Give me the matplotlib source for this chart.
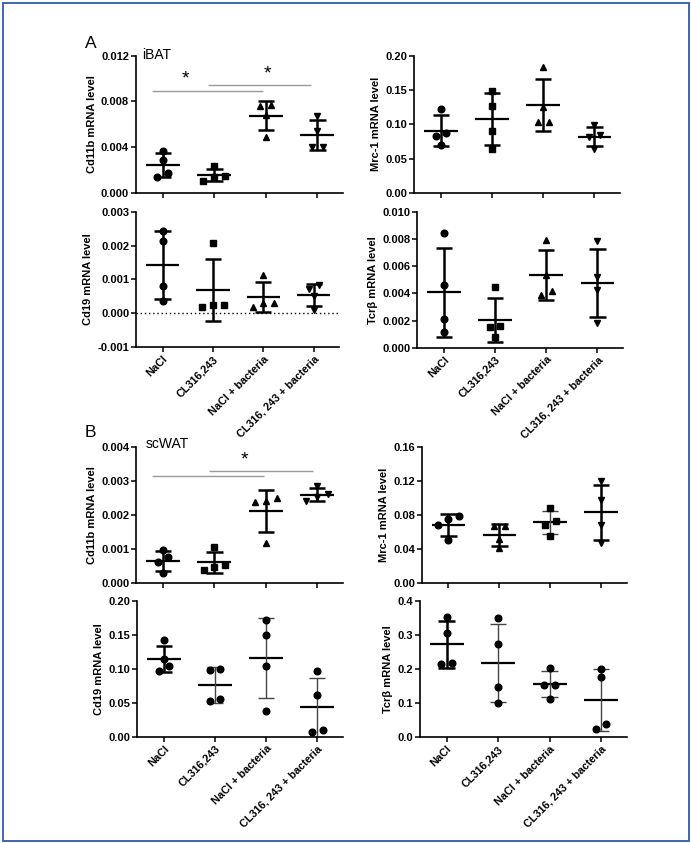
import numpy as np
import matplotlib
matplotlib.use("Agg")
import matplotlib.pyplot as plt
from matplotlib.patches import Rectangle

plt.rcParams["font.family"] = ["Liberation Sans", "DejaVu Sans"]

groups = ["NaCl", "CL316,243", "NaCl + bacteria", "CL316, 243 + bacteria"]

# panel A, iBAT
ibat_cd11b = [[0.00368, 0.00286, 0.00175, 0.00134],
              [0.00234, 0.00146, 0.00140, 0.00105],
              [0.00759, 0.00765, 0.00680, 0.00490],
              [0.00674, 0.00540, 0.00400, 0.00400]]
ibat_mrc1 = [[0.123, 0.0878, 0.0830, 0.0698],
             [0.149, 0.127, 0.0898, 0.0634],
             [0.184, 0.125, 0.103, 0.104],
             [0.0985, 0.0839, 0.0820, 0.0640]]
ibat_cd19 = [[0.00244, 0.00212, 0.00080, 0.00037],
             [0.00206, 0.00025, 0.00018, 0.00025],
             [0.00112, 0.00019, 0.00029, 0.00031],
             [0.00084, 0.00070, 0.00050, 0.00010]]
ibat_tcrb = [[0.00843, 0.00464, 0.00209, 0.00113],
             [0.00445, 0.00157, 0.00150, 0.00079],
             [0.00794, 0.00533, 0.00388, 0.00420],
             [0.00784, 0.00518, 0.00425, 0.00184]]

# panel B, scWAT
scwat_cd11b = [[0.00097, 0.00075, 0.00062, 0.00028],
               [0.00105, 0.00052, 0.00039, 0.00047],
               [0.00249, 0.00239, 0.00240, 0.00118],
               [0.00285, 0.00261, 0.00242, 0.00251]]
scwat_mrc1 = [[0.0753, 0.0792, 0.0687, 0.0503],
              [0.0671, 0.0671, 0.0515, 0.0410],
              [0.0886, 0.0730, 0.0683, 0.0554],
              [0.1198, 0.0976, 0.0683, 0.0468]]
scwat_cd19 = [[0.142, 0.114, 0.104, 0.0973],
              [0.0983, 0.1002, 0.0555, 0.0521],
              [0.172, 0.1499, 0.1037, 0.0378],
              [0.0973, 0.0609, 0.0074, 0.0093]]
scwat_tcrb = [[0.354, 0.305, 0.2147, 0.2176],
              [0.351, 0.2735, 0.146, 0.099],
              [0.204, 0.154, 0.154, 0.112],
              [0.200, 0.1755, 0.0382, 0.0225]]

# significance bars: (from group, to group, level) and star positions
ibat_cd11b_sig = [(-0.21, 1.94, 0.00893), (0.88, 2.88, 0.00946)]
ibat_cd11b_stars = [(0.45, 0.0092), (2.04, 0.0097)]
scwat_cd11b_sig = [(-0.21, 1.97, 0.00313), (0.90, 2.92, 0.00328)]
scwat_cd11b_stars = [(1.59, 0.00335)]

SPREAD = 0.21


def jitter(values, yrange):
    # simple column-scatter: points closer than a marker get spread sideways
    order = np.argsort(values)
    vals = np.asarray(values)[order]
    offsets = np.zeros(len(vals))
    thr = 0.045 * yrange
    clusters, cur = [], [0]
    for k in range(1, len(vals)):
        if vals[k] - vals[k - 1] < thr:
            cur.append(k)
        else:
            clusters.append(cur); cur = [k]
    clusters.append(cur)
    for c in clusters:
        n = len(c)
        for j, k in enumerate(c):
            offsets[k] = (j - (n - 1) / 2) * SPREAD
    out = np.zeros(len(vals))
    out[order] = offsets
    return out


def panel(fig, rect, data, ticks, fmt, ylabel, markers, thin=(), labels=False, zero_line=False):
    ax = fig.add_axes(rect)
    ylo, yhi = ticks[0], ticks[-1]
    for i, vals in enumerate(data):
        vals = np.asarray(vals)
        m, s = vals.mean(), vals.std(ddof=1)
        ax.plot(i + jitter(vals, yhi - ylo), vals, marker=markers[i], ls="none",
                color="black", ms=4.8, clip_on=False, zorder=3)
        ax.hlines(m, i - 0.33, i + 0.33, color="black", lw=1.6, zorder=2)
        if i in thin:
            col, lw = "#444444", 1.0
        else:
            col, lw = "black", 1.8
        ax.vlines(i, m - s, m + s, color=col, lw=lw, zorder=2)
        ax.hlines([m - s, m + s], i - 0.16, i + 0.16, color=col, lw=lw, zorder=2)
    if zero_line:
        ax.axhline(0, color="black", ls=(0, (1, 2)), lw=1.0)
    ax.set_xlim(-0.52, 3.5)
    ax.set_ylim(ylo, yhi)
    ax.set_yticks(ticks)
    ax.set_yticklabels([fmt % t for t in ticks], fontweight="bold", fontsize=8)
    ax.set_xticks(range(len(groups)))
    if labels:
        ax.set_xticklabels(groups, rotation=45, ha="right", rotation_mode="anchor",
                           fontweight="bold", fontsize=7.8)
    else:
        ax.set_xticklabels([])
    ax.set_ylabel(ylabel, fontweight="bold", fontsize=8, labelpad=3)
    for side in ("top", "right"):
        ax.spines[side].set_visible(False)
    for side in ("left", "bottom"):
        ax.spines[side].set_linewidth(1.2)
    ax.tick_params(direction="out", length=3.5, width=1.1, pad=1.5)
    ax.patch.set_alpha(0)
    return ax


def sig(ax, bars, stars):
    for x0, x1, y in bars:
        ax.hlines(y, x0, x1, color="#9a9a9a", lw=1.0)
    for x, y in stars:
        ax.text(x, y, "*", ha="center", va="bottom", fontsize=14)


fig = plt.figure(figsize=(6.91, 8.43), dpi=100)

circ4 = ["o", "s", "^", "v"]
ax = panel(fig, [0.1968, 0.7714, 0.2996, 0.1625], ibat_cd11b, [0, 0.004, 0.008, 0.012], "%.3f",
           "Cd11b mRNA level", circ4)
sig(ax, ibat_cd11b_sig, ibat_cd11b_stars)
panel(fig, [0.5996, 0.7714, 0.2977, 0.1622], ibat_mrc1, [0, 0.05, 0.10, 0.15, 0.20], "%.2f",
      "Mrc-1 mRNA level", circ4)
panel(fig, [0.1973, 0.5884, 0.2933, 0.1605], ibat_cd19, [-0.001, 0, 0.001, 0.002, 0.003], "%.3f",
      "Cd19 mRNA level", circ4, labels=True, zero_line=True)
panel(fig, [0.6039, 0.5875, 0.2977, 0.1610], ibat_tcrb, [0, 0.002, 0.004, 0.006, 0.008, 0.010], "%.3f",
      "Tcr\u03b2 mRNA level", circ4, labels=True)

ax = panel(fig, [0.1973, 0.3084, 0.2987, 0.1617], scwat_cd11b, [0, 0.001, 0.002, 0.003, 0.004], "%.3f",
           "Cd11b mRNA level", circ4)
sig(ax, scwat_cd11b_sig, scwat_cd11b_stars)
panel(fig, [0.6107, 0.3081, 0.2962, 0.1620], scwat_mrc1, [0, 0.04, 0.08, 0.12, 0.16], "%.2f",
      "Mrc-1 mRNA level", ["o", "^", "s", "v"], thin=(2,))
panel(fig, [0.1987, 0.1261, 0.2973, 0.1610], scwat_cd19, [0, 0.05, 0.10, 0.15, 0.20], "%.2f",
      "Cd19 mRNA level", ["o"] * 4, thin=(1, 2, 3), labels=True)
panel(fig, [0.6078, 0.1257, 0.2991, 0.1614], scwat_tcrb, [0, 0.1, 0.2, 0.3, 0.4], "%.1f",
      "Tcr\u03b2 mRNA level", ["o"] * 4, thin=(1, 2, 3), labels=True)

fig.text(85 / 691, 1 - 48 / 843, "A", fontsize=12.5)
fig.text(142 / 691, 1 - 59 / 843, "iBAT", fontsize=10)
fig.text(85 / 691, 1 - 437 / 843, "B", fontsize=12.5)
fig.text(146 / 691, 1 - 448 / 843, "scWAT", fontsize=10)

fig.add_artist(Rectangle((2.5 / 691, 2.5 / 843), 686 / 691, 838 / 843, transform=fig.transFigure,
                         fill=False, edgecolor="#2f5ca8", lw=1.3))

fig.savefig("out.png", dpi=100)
